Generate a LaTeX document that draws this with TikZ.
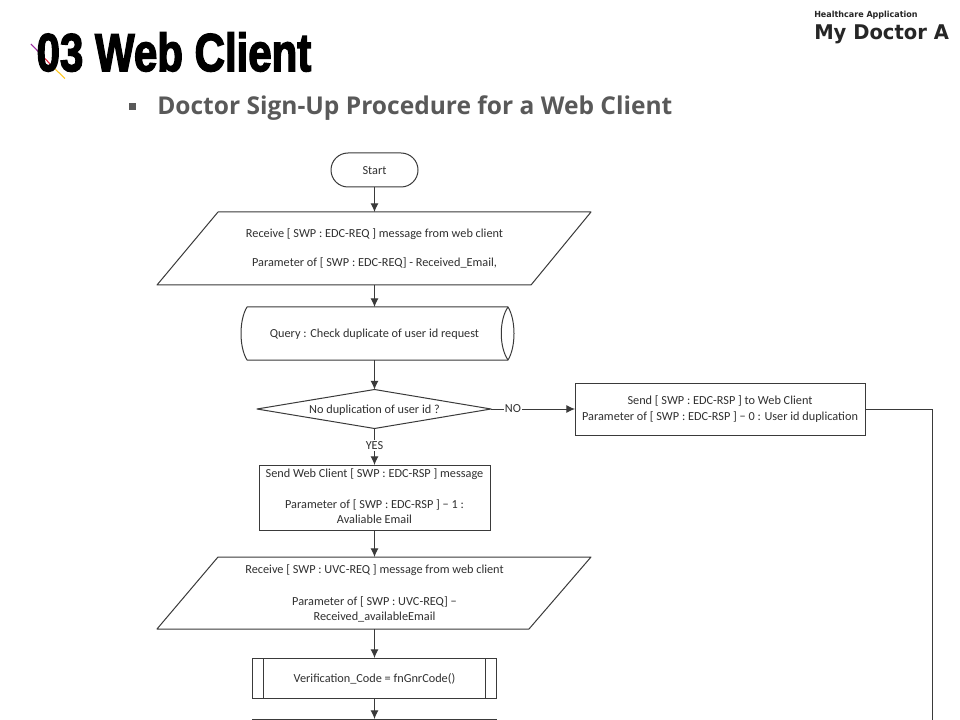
\documentclass[tikz,border=0pt]{standalone}
\usepackage{fontspec}
\usepackage{graphicx}
\setmainfont{Carlito}
\newfontfamily\titlefont[FakeBold=3]{Liberation Sans}
\newfontfamily\headfont{Open Sans}
\newfontfamily\brandfont{DejaVu Sans}
\usetikzlibrary{arrows.meta}
\definecolor{linecol}{HTML}{3A3A3A}
\definecolor{textcol}{HTML}{303030}
\definecolor{headcol}{HTML}{595959}
\definecolor{slashone}{HTML}{9A2AA0}
\definecolor{slashtwo}{HTML}{E0203A}
\definecolor{slashthree}{HTML}{FFC820}
\tikzset{
  x=0.75pt,y=-0.75pt,
  shapeline/.style={draw=linecol,line width=0.75pt,line join=round},
  anchorbox/.style={inner sep=0pt,outer sep=0pt},
  boxtext/.style={inner sep=0pt,outer sep=0pt,align=center,text=textcol,font=\fontsize{9.2pt}{11.6pt}\selectfont},
  flow/.style={draw=linecol,line width=0.75pt,-{Latex[length=6.5pt,width=6pt]}},
  plainflow/.style={draw=linecol,line width=0.75pt},
  edgelabel/.style={fill=white,inner sep=1pt,text=textcol,font=\fontsize{9.2pt}{11pt}\selectfont}
}
\begin{document}
\begin{tikzpicture}
\useasboundingbox (0,0) rectangle (960,720);
\clip (0,0) rectangle (960,720);
\fill[white] (0,0) rectangle (960,720);

% header
\coordinate (slashA) at (31,44);
\coordinate (slashB) at (42,55.5);
\coordinate (slashC) at (53,67);
\coordinate (slashD) at (65,78.5);
\draw[line width=0.8pt,color=slashone] (slashA) -- (slashB);
\draw[line width=0.8pt,color=slashtwo] (slashB) -- (slashC);
\draw[line width=0.8pt,color=slashthree] (slashC) -- (slashD);
\node[anchor=center,inner sep=0pt,text=black] (title) at (174,52) {\resizebox{206pt}{29pt}{\titlefont\bfseries 03 Web Client}};
\node[anchor=west,inner sep=0pt,text=black!85] (brand1) at (814,15.5) {\scalebox{0.955}[1]{\brandfont\bfseries\fontsize{6.3pt}{8pt}\selectfont Healthcare Application}};
\node[anchor=west,inner sep=0pt,text=black!85] (brand2) at (814,34) {\scalebox{0.965}[1]{\brandfont\bfseries\fontsize{15.2pt}{18pt}\selectfont My Doctor A}};
\fill[headcol] (129,103) rectangle (136,110);
\node[anchor=west,inner sep=0pt,text=headcol] (head) at (157,108.5) {\headfont\bfseries\fontsize{18.4pt}{22pt}\selectfont Doctor Sign-Up Procedure for a Web Client};

% shapes
\node[anchorbox,minimum width=65.25pt,minimum height=25.5pt,label={[boxtext,yshift=-0.75pt]center:Start}] (start) at (374.5,170) {};
\draw[shapeline] (348,153) -- (401,153) arc[start angle=90,end angle=-90,radius=12.75pt] -- (348,187) arc[start angle=270,end angle=90,radius=12.75pt] -- cycle;

\node[anchorbox,minimum width=200pt,minimum height=54.75pt,label={[boxtext]center:{Receive [ SWP : EDC-REQ ] message from web client\\[9.9pt]Parameter of [ SWP : EDC-REQ] - Received\_Email,}}] (recv1) at (374.5,248.5) {};
\draw[shapeline] (218,212) -- (591,212) -- (531,285) -- (157,285) -- cycle;

\node[anchorbox,minimum width=190pt,minimum height=39.75pt,label={[boxtext,yshift=-0.75pt]center:Query : Check duplicate of user id request}] (query) at (374.5,333.5) {};
\draw[shapeline] (247,307) -- (508,307) .. controls (516,320) and (516,347) .. (508,360) -- (247,360) .. controls (239,347) and (239,320) .. (247,307) -- cycle;
\draw[shapeline] (508,307) .. controls (499,320) and (499,347) .. (508,360);

\node[anchorbox,minimum width=175pt,minimum height=29.25pt,label={[boxtext,yshift=-1.2pt]center:No duplication of user id ?}] (dup) at (374.5,409) {};
\draw[shapeline] (374.5,389.5) -- (491,409) -- (374.5,428.5) -- (257,409) -- cycle;

\node[anchorbox,draw=linecol,line width=0.75pt,minimum width=217.5pt,minimum height=39pt,label={[boxtext]center:{Send [ SWP : EDC-RSP ] to Web Client\\Parameter of [ SWP : EDC-RSP ] − 0 : User id duplication}}] (sendrsp) at (720,409) {};

\node[anchorbox,draw=linecol,line width=0.75pt,minimum width=173.25pt,minimum height=48.75pt,label={[boxtext,yshift=1.1pt]center:{Send Web Client [ SWP : EDC-RSP ] message\\[11.75pt]Parameter of [ SWP : EDC-RSP ] − 1 :\\Avaliable Email}}] (sendweb) at (374.5,497.5) {};

\node[anchorbox,minimum width=200pt,minimum height=54pt,label={[boxtext,yshift=-0.4pt]center:{Receive [ SWP : UVC-REQ ] message from web client\\[12pt]Parameter of [ SWP : UVC-REQ] −\\Received\_availableEmail}}] (recv2) at (374.5,593) {};
\draw[shapeline] (218,557) -- (591,557) -- (529,629) -- (157,629) -- cycle;

\node[anchorbox,draw=linecol,line width=0.75pt,minimum width=183pt,minimum height=30pt,label={[boxtext,yshift=-0.75pt]center:Verification\_Code = fnGnrCode()}] (verif) at (374.5,678) {};
\draw[shapeline] (263,658) -- (263,698) (485,658) -- (485,698);

\node[anchorbox,draw=linecol,line width=0.75pt,minimum width=183pt,minimum height=30pt,anchor=north] (nextbox) at (374.5,719) {};

% connectors
\coordinate (rightcorner) at (932,409);
\coordinate (rightend) at (932,720);
\draw[flow] (start) -- (recv1);
\draw[flow] (recv1) -- (query);
\draw[flow] (query) -- (dup);
\draw[flow] (dup) -- node[edgelabel,pos=0.26] (nolabel) {NO} (sendrsp);
\draw[flow] (dup) -- node[edgelabel,pos=0.47] (yeslabel) {YES} (sendweb);
\draw[flow] (sendweb) -- (recv2);
\draw[flow] (recv2) -- (verif);
\draw[flow] (verif) -- (nextbox);
\draw[plainflow] (sendrsp.east) -- (rightcorner) -- (rightend);
\end{tikzpicture}
\end{document}
